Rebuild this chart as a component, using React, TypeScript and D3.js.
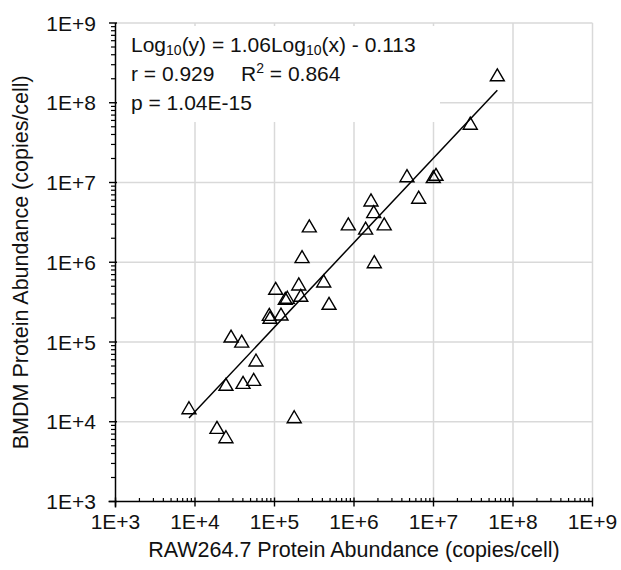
import React from "react";
import * as d3 from "d3";

const raw264 = [
  6.35e7, 2.9e7, 4.64e6, 9.94e6, 1.075e7, 6.51e6, 1.636e6, 1.77e6, 8.48e5, 1.4e6,
  2.4e6, 1.8e6, 2.74e5, 2.22e5, 1.035e5, 2.02e5, 4.16e5, 4.85e5, 1.367e5, 1.449e5,
  2.14e5, 8.6e4, 8.78e4, 1.207e5, 2.84e4, 3.87e4, 5.85e4, 2.45e4, 4.02e4, 5.47e4,
  8.4e3, 1.77e5, 1.89e4, 2.45e4,
];
const bmdm = [
  2.23e8, 5.51e7, 1.21e7, 1.18e7, 1.26e7, 6.5e6, 6.01e6, 4.29e6, 3.01e6, 2.66e6,
  3.01e6, 1.01e6, 2.84e6, 1.17e6, 4.69e5, 5.31e5, 5.79e5, 3.04e5, 3.51e5, 3.62e5,
  3.83e5, 2.21e5, 2.03e5, 2.23e5, 1.18e5, 1.02e5, 5.91e4, 2.93e4, 3.1e4, 3.38e4,
  1.49e4, 1.149e4, 8.46e3, 6.45e3,
];
const decades = [1e3, 1e4, 1e5, 1e6, 1e7, 1e8, 1e9];
const tickLabels = ["1E+3", "1E+4", "1E+5", "1E+6", "1E+7", "1E+8", "1E+9"];
const slope = 1.06;
const intercept = -0.113;
const xTitle = "RAW264.7 Protein Abundance (copies/cell)";
const yTitle = "BMDM Protein Abundance (copies/cell)";
const statR = "r = 0.929";
const statR2 = " = 0.864";
const statP = "p = 1.04E-15";

const FONT = "'Liberation Sans', Arial, sans-serif";

export default function App() {
  const W = 621, H = 570;
  const x = d3.scaleLog().domain([1e3, 1e9]).range([115.5, 592.5]);
  const y = d3.scaleLog().domain([1e3, 1e9]).range([501.5, 23]);
  const minors: number[] = [];
  for (let i = 0; i < decades.length - 1; i++) {
    for (let m = 2; m <= 9; m++) minors.push(decades[i] * m);
  }
  const xMin = d3.min(raw264) as number;
  const xMax = d3.max(raw264) as number;
  const fit = (v: number) => Math.pow(10, slope * Math.log10(v) + intercept);
  const linePath = d3.line<number>().x((d) => x(d)).y((d) => y(fit(d)))([xMin, xMax]) as string;
  const tri = (cx: number, cy: number) =>
    `M${cx},${cy - 6.2}L${cx + 7},${cy + 5.8}L${cx - 7},${cy + 5.8}Z`;
  const x0 = x(1e3), x1 = x(1e9), y0 = y(1e3), y1 = y(1e9);
  return (
    <svg
      width={W}
      height={H}
      style={{ position: "absolute", left: 0, top: 0, background: "#fff" }}
      fontFamily={FONT}
    >
      <rect x={0} y={0} width={W} height={H} fill="#fff" />
      {/* grid */}
      {decades.slice(1).map((d) => (
        <line key={"gx" + d} x1={x(d)} x2={x(d)} y1={y1} y2={y0} stroke="#d9d9d9" strokeWidth={1.5} />
      ))}
      {decades.slice(1).map((d) => (
        <line key={"gy" + d} x1={x0} x2={x1} y1={y(d)} y2={y(d)} stroke="#d9d9d9" strokeWidth={1.5} />
      ))}
      {/* annotation box */}
      <rect x={117} y={26} width={323} height={96} fill="#fff" />
      <g fontSize={21} fill="#111">
        <text x={131} y={52}>
          <tspan>Log</tspan>
          <tspan fontSize={14} dy={3}>10</tspan>
          <tspan dy={-3}>(y) = 1.06Log</tspan>
          <tspan fontSize={14} dy={3}>10</tspan>
          <tspan dy={-3}>(x) - 0.113</tspan>
        </text>
        <text x={131} y={81}>{statR}</text>
        <text x={241} y={81}>
          <tspan>R</tspan>
          <tspan fontSize={14} dy={-8}>2</tspan>
          <tspan dy={8}>{statR2}</tspan>
        </text>
        <text x={131} y={110}>{statP}</text>
      </g>
      {/* regression line */}
      <path d={linePath} stroke="#000" strokeWidth={1.5} fill="none" />
      {/* points */}
      {raw264.map((v, i) => (
        <path key={"p" + i} d={tri(x(v), y(bmdm[i]))} fill="none" stroke="#000" strokeWidth={1.4} strokeLinejoin="miter" />
      ))}
      {/* axes */}
      <line x1={x0} x2={x0} y1={y1} y2={y0 + 6} stroke="#000" strokeWidth={1.5} />
      <line x1={x0 - 7} x2={x1} y1={y0} y2={y0} stroke="#000" strokeWidth={1.5} />
      {decades.map((d) => (
        <line key={"ty" + d} x1={x0 - 6.5} x2={x0 + 1.5} y1={y(d)} y2={y(d)} stroke="#000" strokeWidth={1.4} />
      ))}
      {minors.map((d) => (
        <line key={"my" + d} x1={x0 - 4.5} x2={x0} y1={y(d)} y2={y(d)} stroke="#000" strokeWidth={1.2} />
      ))}
      {decades.map((d) => (
        <line key={"tx" + d} x1={x(d)} x2={x(d)} y1={y0 - 4} y2={y0 + 5} stroke="#000" strokeWidth={1.4} />
      ))}
      {minors.map((d) => (
        <line key={"mx" + d} x1={x(d)} x2={x(d)} y1={y0 - 3.5} y2={y0} stroke="#000" strokeWidth={1.2} />
      ))}
      {/* tick labels */}
      <g fontSize={21} fill="#111">
        {decades.map((d, i) => (
          <text key={"lx" + d} x={x(d)} y={529} textAnchor="middle">{tickLabels[i]}</text>
        ))}
        {decades.map((d, i) => (
          <text key={"ly" + d} x={96} y={y(d) + 7.5} textAnchor="end">{tickLabels[i]}</text>
        ))}
      </g>
      {/* titles */}
      <text x={(x0 + x1) / 2} y={557} textAnchor="middle" fontSize={21.5} fill="#111">{xTitle}</text>
      <text
        transform={`translate(28,${(y0 + y1) / 2}) rotate(-90)`}
        textAnchor="middle"
        fontSize={21.5}
        fill="#111"
      >
        {yTitle}
      </text>
    </svg>
  );
}
